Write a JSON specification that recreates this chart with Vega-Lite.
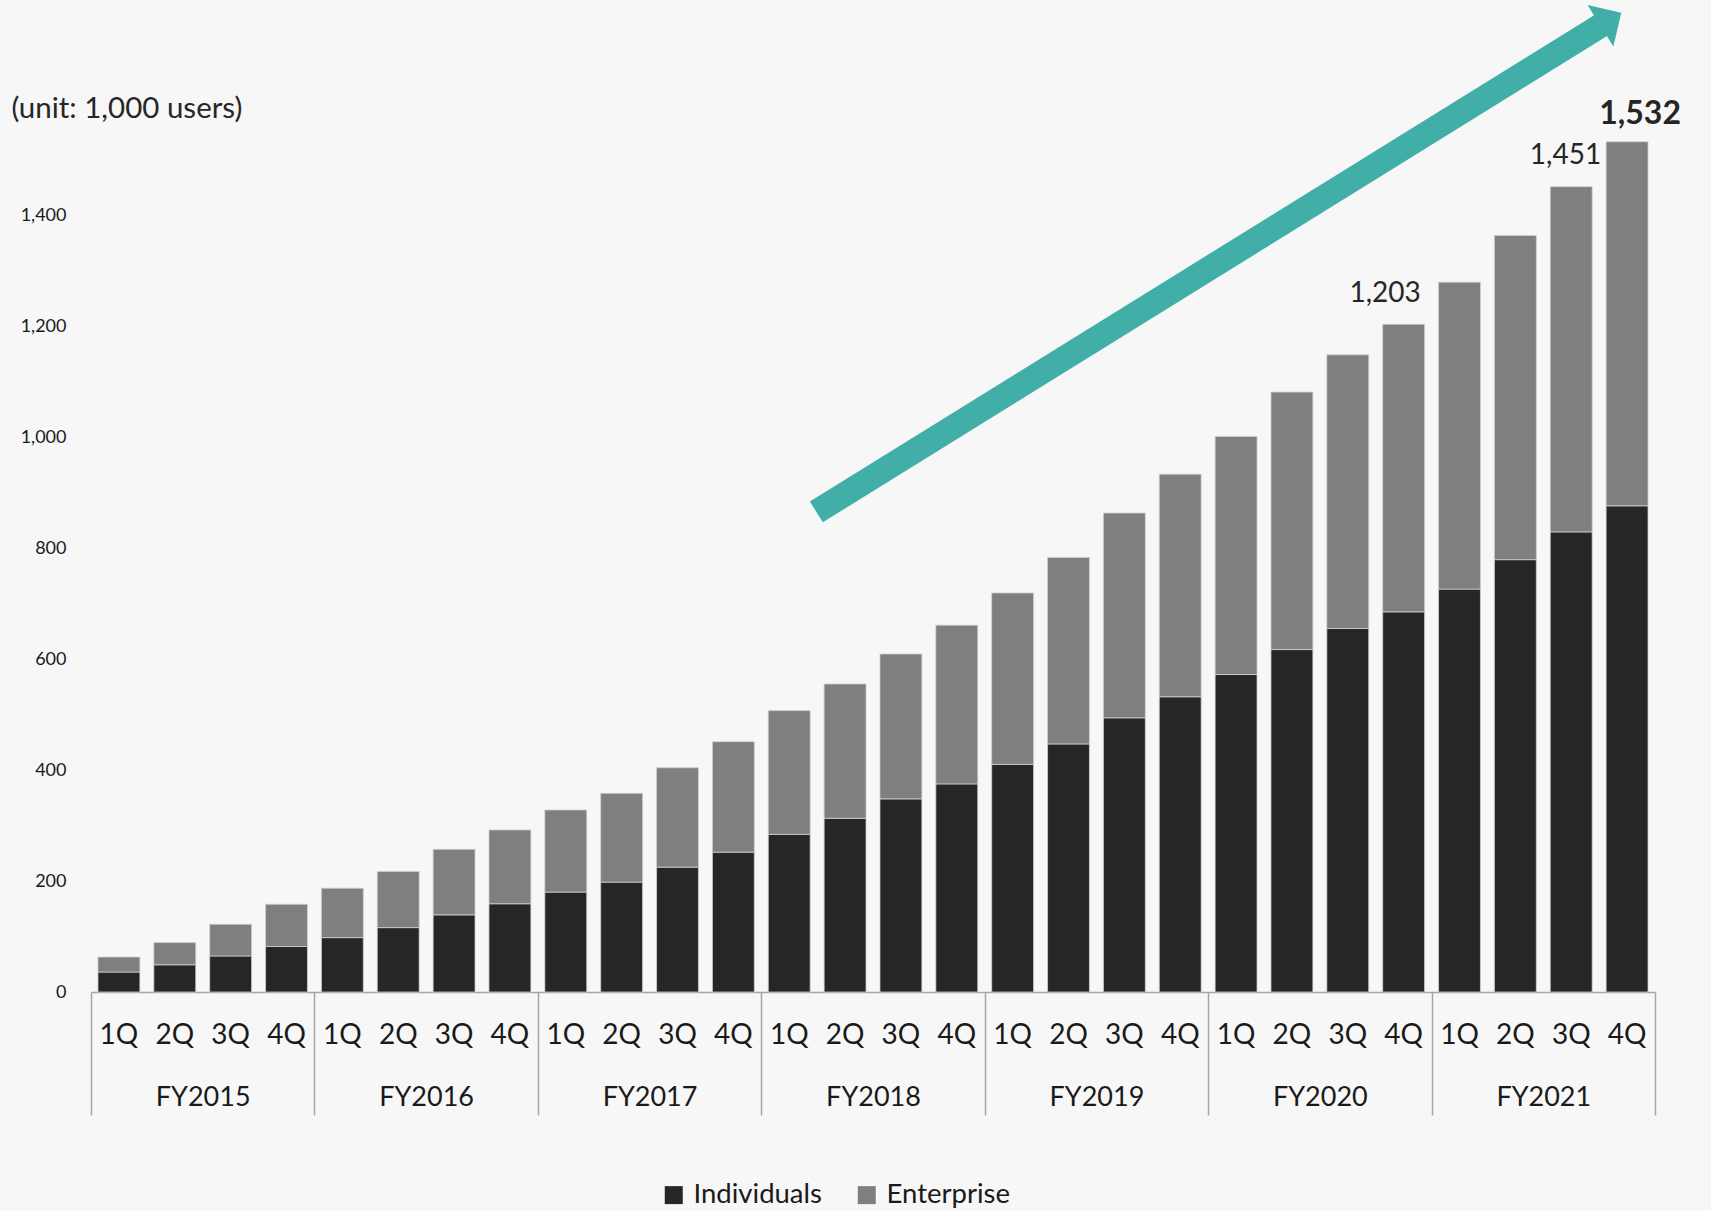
{
  "$schema": "https://vega.github.io/schema/vega-lite/v6.json",
  "width": 1564,
  "height": 888,
  "autosize": {"type": "none"},
  "padding": {"left": 91, "top": 104, "right": 56, "bottom": 219},
  "background": "#f7f7f7",
  "config": {
    "view": {"stroke": null},
    "font": "Lato",
    "text": {"font": "Lato"},
    "axis": {"labelFont": "Lato", "titleFont": "Lato"},
    "axisY": {
      "grid": false, "domain": false, "ticks": false, "tickSize": 0,
      "labelPadding": 25, "labelFontSize": 18, "labelColor": "#1a1a1a"
    },
    "legend": {"labelFont": "Lato"}
  },
  "datasets": {
    "quarters": [
      {"period": "FY2015 1Q", "segment": "Individuals", "users": 36},
      {"period": "FY2015 1Q", "segment": "Enterprise", "users": 27},
      {"period": "FY2015 2Q", "segment": "Individuals", "users": 49},
      {"period": "FY2015 2Q", "segment": "Enterprise", "users": 40},
      {"period": "FY2015 3Q", "segment": "Individuals", "users": 65},
      {"period": "FY2015 3Q", "segment": "Enterprise", "users": 57},
      {"period": "FY2015 4Q", "segment": "Individuals", "users": 82},
      {"period": "FY2015 4Q", "segment": "Enterprise", "users": 76},
      {"period": "FY2016 1Q", "segment": "Individuals", "users": 98},
      {"period": "FY2016 1Q", "segment": "Enterprise", "users": 89},
      {"period": "FY2016 2Q", "segment": "Individuals", "users": 116},
      {"period": "FY2016 2Q", "segment": "Enterprise", "users": 101},
      {"period": "FY2016 3Q", "segment": "Individuals", "users": 139},
      {"period": "FY2016 3Q", "segment": "Enterprise", "users": 118},
      {"period": "FY2016 4Q", "segment": "Individuals", "users": 159},
      {"period": "FY2016 4Q", "segment": "Enterprise", "users": 133},
      {"period": "FY2017 1Q", "segment": "Individuals", "users": 180},
      {"period": "FY2017 1Q", "segment": "Enterprise", "users": 148},
      {"period": "FY2017 2Q", "segment": "Individuals", "users": 198},
      {"period": "FY2017 2Q", "segment": "Enterprise", "users": 160},
      {"period": "FY2017 3Q", "segment": "Individuals", "users": 225},
      {"period": "FY2017 3Q", "segment": "Enterprise", "users": 179},
      {"period": "FY2017 4Q", "segment": "Individuals", "users": 252},
      {"period": "FY2017 4Q", "segment": "Enterprise", "users": 199},
      {"period": "FY2018 1Q", "segment": "Individuals", "users": 284},
      {"period": "FY2018 1Q", "segment": "Enterprise", "users": 223},
      {"period": "FY2018 2Q", "segment": "Individuals", "users": 313},
      {"period": "FY2018 2Q", "segment": "Enterprise", "users": 242},
      {"period": "FY2018 3Q", "segment": "Individuals", "users": 348},
      {"period": "FY2018 3Q", "segment": "Enterprise", "users": 261},
      {"period": "FY2018 4Q", "segment": "Individuals", "users": 375},
      {"period": "FY2018 4Q", "segment": "Enterprise", "users": 286},
      {"period": "FY2019 1Q", "segment": "Individuals", "users": 410},
      {"period": "FY2019 1Q", "segment": "Enterprise", "users": 309},
      {"period": "FY2019 2Q", "segment": "Individuals", "users": 447},
      {"period": "FY2019 2Q", "segment": "Enterprise", "users": 336},
      {"period": "FY2019 3Q", "segment": "Individuals", "users": 494},
      {"period": "FY2019 3Q", "segment": "Enterprise", "users": 369},
      {"period": "FY2019 4Q", "segment": "Individuals", "users": 532},
      {"period": "FY2019 4Q", "segment": "Enterprise", "users": 401},
      {"period": "FY2020 1Q", "segment": "Individuals", "users": 572},
      {"period": "FY2020 1Q", "segment": "Enterprise", "users": 429},
      {"period": "FY2020 2Q", "segment": "Individuals", "users": 617},
      {"period": "FY2020 2Q", "segment": "Enterprise", "users": 464},
      {"period": "FY2020 3Q", "segment": "Individuals", "users": 655},
      {"period": "FY2020 3Q", "segment": "Enterprise", "users": 493},
      {"period": "FY2020 4Q", "segment": "Individuals", "users": 685},
      {"period": "FY2020 4Q", "segment": "Enterprise", "users": 518},
      {"period": "FY2021 1Q", "segment": "Individuals", "users": 726},
      {"period": "FY2021 1Q", "segment": "Enterprise", "users": 553},
      {"period": "FY2021 2Q", "segment": "Individuals", "users": 779},
      {"period": "FY2021 2Q", "segment": "Enterprise", "users": 584},
      {"period": "FY2021 3Q", "segment": "Individuals", "users": 829},
      {"period": "FY2021 3Q", "segment": "Enterprise", "users": 622},
      {"period": "FY2021 4Q", "segment": "Individuals", "users": 876},
      {"period": "FY2021 4Q", "segment": "Enterprise", "users": 656}
    ],
    "growthArrow": [
      {"pos": 12.985, "users": 865},
      {"pos": 27.12, "users": 1747}
    ],
    "growthArrowHead": [
      {"pos": 27.21, "users": 1752.6}
    ]
  },
  "layer": [
    {
      "data": {"name": "growthArrow"},
      "mark": {"type": "line", "stroke": "#41afa8", "strokeWidth": 24.5, "strokeCap": "butt"},
      "encoding": {
        "x": {"field": "pos", "type": "quantitative", "scale": {"domain": [0, 28], "nice": false, "zero": false}, "axis": null},
        "y": {"field": "users", "type": "quantitative", "scale": {"domain": [0, 1600], "nice": false}, "axis": {"format": ",d", "formatType": "number"}}
      }
    },
    {
      "data": {"name": "growthArrowHead"},
      "mark": {"type": "point", "shape": "M -0.5 -1 L 0.5 0 L -0.5 1 Z", "size": 2400, "angle": -31.8, "filled": true, "fill": "#41afa8", "opacity": 1, "strokeWidth": 0},
      "encoding": {
        "x": {"field": "pos", "type": "quantitative", "scale": {"domain": [0, 28], "nice": false, "zero": false}, "axis": null},
        "y": {"field": "users", "type": "quantitative", "scale": {"domain": [0, 1600], "nice": false}, "axis": {"format": ",d", "formatType": "number"}}
      }
    },
    {
      "layer": [
        {
          "data": {"name": "quarters"},
          "mark": {"type": "bar", "stroke": "#cfcfcf", "strokeWidth": 0.8},
          "encoding": {
            "x": {
              "field": "period", "type": "nominal",
              "scale": {"paddingInner": 0.25, "paddingOuter": 0.125},
              "axis": {
                "orient": "bottom", "title": null,
                "labelExpr": "split(datum.label, ' ')[1]",
                "ticks": false, "tickSize": 0, "grid": false,
                "labelPadding": 29, "labelFontSize": 28, "labelAngle": 0,
                "labelColor": "#1a1a1a", "labelOverlap": false, "labelBound": false,
                "domainColor": "#a6a6a6", "domainWidth": 1.5
              }
            },
            "y": {
              "field": "users", "type": "quantitative", "stack": "zero",
              "scale": {"domain": [0, 1600], "nice": false},
              "axis": {
                "values": [0, 200, 400, 600, 800, 1000, 1200, 1400],
                "format": ",d", "formatType": "number",
                "domain": false, "ticks": false, "tickSize": 0, "grid": false,
                "labelPadding": 25, "labelFontSize": 18, "labelColor": "#1a1a1a",
                "title": "(unit: 1,000 users)", "titleAngle": 0, "titleX": -80, "titleY": 13,
                "titleAlign": "left", "titleBaseline": "alphabetic",
                "titleFontSize": 29.5, "titleFontWeight": "normal", "titleColor": "#262626"
              }
            },
            "color": {
              "field": "segment", "type": "nominal",
              "scale": {"domain": ["Individuals", "Enterprise"], "range": ["#262626", "#7f7f7f"]},
              "legend": {
                "title": null, "orient": "none", "legendX": 569, "legendY": 1077,
                "direction": "horizontal", "symbolType": "square", "symbolSize": 324,
                "symbolStrokeWidth": 0, "symbolOpacity": 1,
                "labelFontSize": 27.5, "labelColor": "#1a1a1a", "labelOffset": 6, "columnPadding": 31
              }
            },
            "order": {"field": "segment", "sort": "descending"}
          }
        },
        {
          "data": {"name": "quarters"},
          "transform": [
            {"filter": "datum.period == 'FY2020 4Q'"},
            {"aggregate": [{"op": "sum", "field": "users", "as": "total"}], "groupby": ["period"]}
          ],
          "mark": {"type": "text", "dx": -18.6, "dy": -22.6, "baseline": "alphabetic", "align": "center", "fontSize": 28, "color": "#262626"},
          "encoding": {
            "x": {
              "field": "period", "type": "nominal",
              "axis": {
                "orient": "bottom", "title": null,
                "values": ["FY2015 4Q", "FY2016 4Q", "FY2017 4Q", "FY2018 4Q", "FY2019 4Q", "FY2020 4Q", "FY2021 4Q"],
                "bandPosition": 1, "tickOffset": 7, "labelOffset": -90.8,
                "tickSize": 123, "tickWidth": 1.5, "tickColor": "#a6a6a6",
                "domain": false, "grid": false,
                "labelExpr": "split(datum.label, ' ')[0]",
                "labelPadding": -30.5, "labelFontSize": 27, "labelColor": "#1a1a1a",
                "labelAngle": 0, "labelOverlap": false, "labelBound": false, "labelFlush": false
              }
            },
            "y": {"field": "total", "type": "quantitative", "scale": {"domain": [0, 1600], "nice": false}, "axis": {"format": ",d", "formatType": "number"}},
            "text": {"field": "total", "type": "quantitative", "format": ","}
          }
        },
        {
          "data": {"name": "quarters"},
          "transform": [
            {"filter": "datum.period == 'FY2021 3Q'"},
            {"aggregate": [{"op": "sum", "field": "users", "as": "total"}], "groupby": ["period"]}
          ],
          "mark": {"type": "text", "dx": -5.7, "dy": -22.7, "baseline": "alphabetic", "align": "center", "fontSize": 28, "color": "#262626"},
          "encoding": {
            "x": {
              "field": "period", "type": "nominal",
              "axis": {
                "orient": "bottom", "title": null,
                "values": ["FY2015 1Q"],
                "bandPosition": 0, "tickOffset": -7,
                "tickSize": 123, "tickWidth": 1.5, "tickColor": "#a6a6a6",
                "domain": false, "grid": false, "labels": false
              }
            },
            "y": {"field": "total", "type": "quantitative", "scale": {"domain": [0, 1600], "nice": false}, "axis": {"format": ",d", "formatType": "number"}},
            "text": {"field": "total", "type": "quantitative", "format": ","}
          }
        },
        {
          "data": {"name": "quarters"},
          "transform": [
            {"filter": "datum.period == 'FY2021 4Q'"},
            {"aggregate": [{"op": "sum", "field": "users", "as": "total"}], "groupby": ["period"]}
          ],
          "mark": {"type": "text", "dx": 13, "dy": -17.7, "baseline": "alphabetic", "align": "center", "fontSize": 32, "fontWeight": "bold", "color": "#262626"},
          "encoding": {
            "x": {"field": "period", "type": "nominal", "axis": null},
            "y": {"field": "total", "type": "quantitative", "scale": {"domain": [0, 1600], "nice": false}, "axis": {"format": ",d", "formatType": "number"}},
            "text": {"field": "total", "type": "quantitative", "format": ","}
          }
        }
      ],
      "resolve": {"axis": {"x": "independent"}}
    }
  ],
  "resolve": {"scale": {"x": "independent"}}
}
